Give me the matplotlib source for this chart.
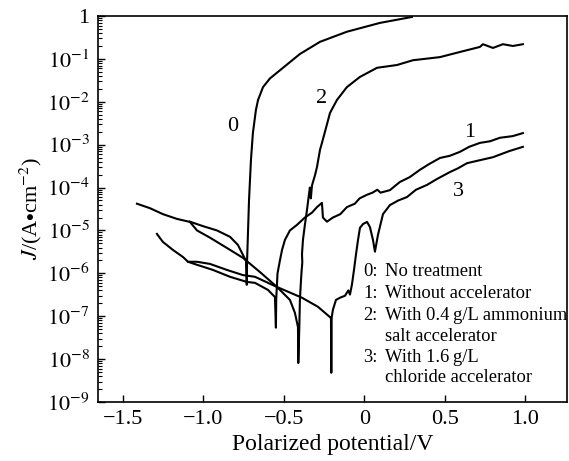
import matplotlib
matplotlib.use("Agg")
import matplotlib.pyplot as plt
from matplotlib.ticker import FixedLocator, LogLocator, NullFormatter

plt.rcParams['font.family'] = ['Liberation Serif', 'DejaVu Serif']
plt.rcParams['mathtext.fontset'] = 'stix'

# ---- data ----
# curve 0: No treatment
c0_v = [-1.084, -1.003, -0.916, -0.835, -0.786, -0.755, -0.736, -0.731, -0.729, -0.723,
        -0.717, -0.705, -0.693, -0.674, -0.661, -0.630, -0.587, -0.506, -0.401, -0.276,
        -0.109, 0.096, 0.295]
c0_j = [1.6e-5, 1.26e-5, 1.0e-5, 7.1e-6, 4.6e-6, 2.7e-6, 1.95e-6, 5.4e-7, 2.0e-6, 1.0e-5,
        5.1e-5, 4.4e-4, 1.86e-3, 6.5e-3, 1.1e-2, 2.2e-2, 3.5e-2, 6.2e-2, 0.13, 0.25,
        0.43, 0.69, 0.95]

# curve 1: Without accelerator
c1_v = [-1.289, -1.252, -1.189, -1.127, -1.096, -1.040, -0.941, -0.835, -0.730, -0.680,
        -0.599, -0.556, -0.550, -0.548, -0.540, -0.525, -0.512, -0.494, -0.463, -0.419,
        -0.370, -0.326, -0.295, -0.264, -0.258, -0.233, -0.196, -0.150, -0.109, -0.060,
        -0.030, 0.016, 0.050, 0.080, 0.100, 0.158, 0.220, 0.280, 0.345, 0.400,
        0.469, 0.530, 0.593, 0.650, 0.717, 0.780, 0.842, 0.920, 0.984]
c1_j = [8.3e-6, 5.4e-6, 3.5e-6, 2.4e-6, 1.86e-6, 1.58e-6, 1.2e-6, 8.3e-7, 6.3e-7, 6.0e-7,
        4.1e-7, 2.8e-7, 5.4e-8, 2.5e-7, 1.0e-6, 2.0e-6, 3.5e-6, 6.0e-6, 1.0e-5, 1.35e-5,
        2.0e-5, 2.6e-5, 3.5e-5, 4.4e-5, 2.0e-5, 1.6e-5, 2.0e-5, 2.4e-5, 3.5e-5, 4.2e-5,
        5.6e-5, 6.8e-5, 7.6e-5, 8.9e-5, 7.6e-5, 8.7e-5, 1.35e-4, 1.74e-4, 2.6e-4, 3.5e-4,
        4.9e-4, 5.5e-4, 6.8e-4, 8.9e-4, 1.1e-3, 1.2e-3, 1.45e-3, 1.58e-3, 1.86e-3]

# curve 2: With 0.4 g/L ammonium salt accelerator
c2_v = [-1.096, -1.040, -0.960, -0.854, -0.755, -0.680, -0.543, -0.463, -0.432, -0.413,
        -0.411, -0.405, -0.401, -0.394, -0.390, -0.386, -0.388, -0.382, -0.370, -0.357,
        -0.345, -0.339, -0.333, -0.326, -0.307, -0.295, -0.276, -0.264, -0.239, -0.214,
        -0.171, -0.109, -0.028, 0.078, 0.202, 0.301, 0.469, 0.593, 0.717, 0.736,
        0.798, 0.860, 0.922, 0.984]
c2_j = [1.86e-6, 1.86e-6, 1.66e-6, 1.2e-6, 9.1e-7, 8.3e-7, 4.8e-7, 2.4e-7, 1.2e-7, 5.6e-8,
        8.1e-9, 4.8e-8, 2.4e-7, 7.1e-7, 1.2e-6, 1.78e-6, 2.8e-6, 6.0e-6, 1.35e-5, 3.0e-5,
        6.8e-5, 1.0e-4, 5.6e-5, 1.12e-4, 1.95e-4, 3.0e-4, 7.6e-4, 1.1e-3, 2.45e-3, 5.5e-3,
        1.1e-2, 2.2e-2, 3.8e-2, 6.2e-2, 7.2e-2, 9.3e-2, 0.11, 0.145, 0.19, 0.22,
        0.18, 0.22, 0.20, 0.22]

# curve 3: With 1.6 g/L chloride accelerator
c3_v = [-1.413, -1.332, -1.252, -1.165, -1.084, -1.040, -0.960, -0.854, -0.755, -0.649,
        -0.543, -0.388, -0.289, -0.208, -0.206, -0.204, -0.196, -0.177, -0.152, -0.121,
        -0.100, -0.090, -0.078, -0.065, -0.053, -0.040, -0.028, -0.009, 0.016, 0.034,
        0.053, 0.065, 0.084, 0.115, 0.158, 0.210, 0.264, 0.320, 0.388, 0.450,
        0.531, 0.580, 0.637, 0.700, 0.798, 0.900, 0.984]
c3_j = [4.2e-5, 3.3e-5, 2.4e-5, 1.86e-5, 1.58e-5, 1.0e-5, 6.8e-6, 3.9e-6, 2.3e-6, 1.07e-6,
        4.8e-7, 2.7e-7, 1.66e-7, 9.1e-8, 4.8e-9, 9.1e-8, 1.41e-7, 2.4e-7, 2.7e-7, 3.0e-7,
        4.0e-7, 3.2e-7, 5.4e-7, 1.2e-6, 2.7e-6, 6.0e-6, 1.15e-5, 1.41e-5, 1.58e-5, 1.2e-5,
        6.0e-6, 3.2e-6, 7.9e-6, 2.4e-5, 3.9e-5, 5.0e-5, 6.0e-5, 8.9e-5, 1.15e-4, 1.58e-4,
        2.3e-4, 2.8e-4, 3.7e-4, 4.2e-4, 5.1e-4, 7.1e-4, 8.9e-4]

curve_labels = ["0", "1", "2", "3"]
curve_label_v = [-0.817, 0.655, -0.264, 0.581]
curve_label_j = [2.6e-3, 1.9e-3, 1.2e-2, 7.9e-5]

legend_nums = ["0:", "1:", "2:", "", "3:", ""]
legend_texts = ["No treatment", "Without accelerator", "With 0.4\u2009g/L ammonium",
                "salt accelerator", "With 1.6\u2009g/L", "chloride accelerator"]

x_ticks = [-1.5, -1.0, -0.5, 0.0, 0.5, 1.0]
x_ticklabels = ["\u22121.5", "\u22121.0", "\u22120.5", "0", "0.5", "1.0"]
y_ticks = [1, 1e-1, 1e-2, 1e-3, 1e-4, 1e-5, 1e-6, 1e-7, 1e-8, 1e-9]
y_ticklabels = ["1"] + [r"$10^{-%d}$" % k for k in range(1, 10)]

# ---- figure ----
fig = plt.figure(figsize=(5.69, 4.61), dpi=100)
ax = fig.add_axes([98 / 569, 1 - 402 / 461, (567 - 98) / 569, (402 - 16) / 461])

for v, j in [(c0_v, c0_j), (c1_v, c1_j), (c2_v, c2_j), (c3_v, c3_j)]:
    ax.plot(v, j, color="black", lw=1.5, solid_joinstyle="round")

ax.set_yscale("log")
ax.set_xlim(-1.655, 1.258)
ax.set_ylim(1e-9, 1)

ax.yaxis.set_major_locator(FixedLocator(y_ticks))
ax.set_yticklabels(y_ticklabels)
ax.yaxis.set_minor_locator(LogLocator(base=10, subs=range(2, 10), numticks=20))
ax.yaxis.set_minor_formatter(NullFormatter())
ax.set_xticks(x_ticks)
ax.set_xticklabels(x_ticklabels)

ax.tick_params(axis="both", which="major", direction="in", length=5, width=1.0,
               labelsize=16, pad=6)
ax.tick_params(axis="y", which="minor", direction="in", length=3, width=0.8)
ax.tick_params(top=False, right=False)
for s in ax.spines.values():
    s.set_linewidth(1.2)

ax.set_xlabel("Polarized potential/V", fontsize=17, labelpad=3)
ax.set_ylabel(r"$J$/(A$\bullet$cm$^{-2}$)", fontsize=16, labelpad=2)

for t, v, j in zip(curve_labels, curve_label_v, curve_label_j):
    ax.text(v, j, t, fontsize=16, ha="center", va="center")

line_y = [272, 293.5, 315, 336, 357, 377.5]
for n, t, yy in zip(legend_nums, legend_texts, line_y):
    if n:
        fig.text(363 / 569, 1 - yy / 461, n, fontsize=13.3, ha="left", va="center")
    fig.text(385 / 569, 1 - yy / 461, t, fontsize=13.3, ha="left", va="center")

fig.savefig("out.png", dpi=100)
